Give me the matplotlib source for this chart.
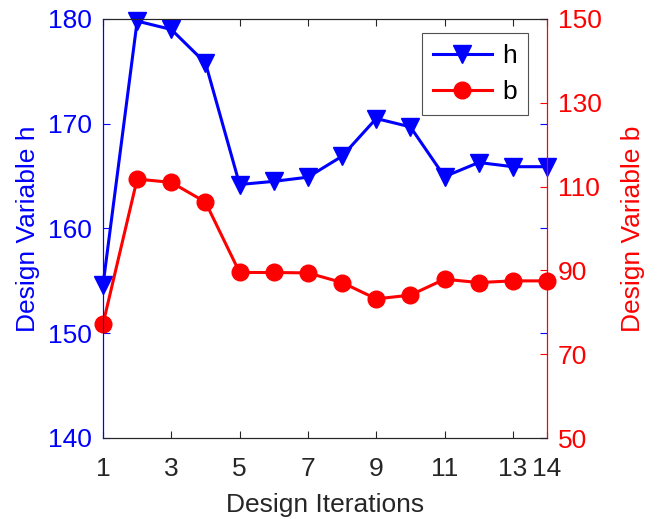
import matplotlib
matplotlib.use('Agg')
import matplotlib.pyplot as plt

iters = [1, 2, 3, 4, 5, 6, 7, 8, 9, 10, 11, 12, 13, 14]
h = [154.6, 179.8, 179.0, 175.8, 164.2, 164.5, 164.9, 166.9, 170.5, 169.7, 164.95, 166.3, 165.9, 165.9]
b = [77.2, 111.8, 111.0, 106.3, 89.5, 89.5, 89.4, 87.1, 83.2, 84.1, 87.9, 87.1, 87.5, 87.5]
xticks = [1, 3, 5, 7, 9, 11, 13, 14]
h_ticks = [140, 150, 160, 170, 180]
b_ticks = [50, 70, 90, 110, 130, 150]

plt.rcParams['font.family'] = ['Liberation Sans', 'DejaVu Sans']
fs = 19
dark = '#262626'

fig = plt.figure(figsize=(6.58, 5.19), dpi=100)
ax1 = fig.add_axes([103/658, 1 - 438/519, 444/658, 419/519])
ax2 = ax1.twinx()

l1, = ax1.plot(iters, h, color='blue', marker='v', markersize=13, linewidth=2.2, clip_on=False)
l2, = ax2.plot(iters, b, color='red', marker='o', markersize=12, linewidth=2.2, clip_on=False)

ax1.set_xlim(1, 14)
ax1.set_ylim(140, 180)
ax2.set_ylim(50, 150)
ax1.set_xticks(xticks)
ax1.set_yticks(h_ticks)
ax2.set_yticks(b_ticks)

ax1.tick_params(axis='x', direction='in', colors=dark, labelsize=fs, length=5, top=True, pad=14)
ax1.tick_params(axis='y', direction='in', colors='blue', labelsize=fs, length=5, right=True, pad=8)
ax2.tick_params(axis='y', direction='in', colors='red', labelsize=fs, length=5, pad=8)

for a in (ax1, ax2):
    a.spines['top'].set_color(dark)
    a.spines['bottom'].set_color(dark)
    a.spines['left'].set_color('blue')
    a.spines['right'].set_color('red')

ax1.set_xlabel('Design Iterations', fontsize=fs, color=dark, labelpad=8)
ax1.set_ylabel('Design Variable h', fontsize=fs, color='blue', labelpad=6)
ax2.set_ylabel('Design Variable b', fontsize=fs, color='red', labelpad=14)

leg = ax2.legend([l1, l2], ['h', 'b'], loc='upper right', bbox_to_anchor=(0.957, 0.967),
                 borderaxespad=0, fontsize=fs, frameon=True, fancybox=False, edgecolor=dark,
                 handlelength=2.2, handletextpad=0.4, borderpad=0.42, labelspacing=0.45)
leg.get_frame().set_linewidth(0.8)

fig.savefig('out.png', dpi=100)
